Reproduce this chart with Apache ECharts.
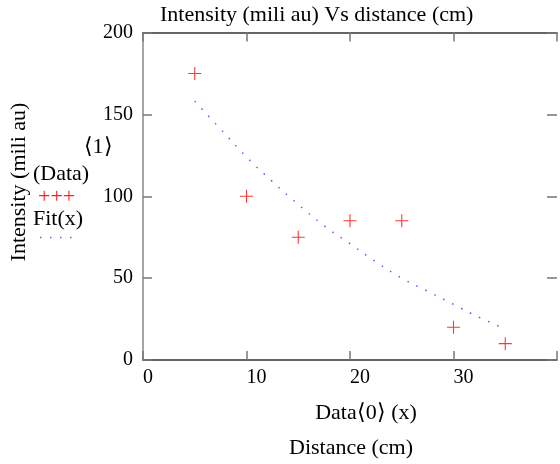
<!DOCTYPE html>
<html>
<head>
<meta charset="utf-8">
<script src="https://cdn.jsdelivr.net/npm/echarts@6/dist/echarts.min.js"></script>
<style>
html,body{margin:0;padding:0;background:#fff;}
#c{width:560px;height:464px;}
</style>
</head>
<body>
<div id="c"></div>
<script>
// Data
var dataX = [5, 10, 15, 20, 25, 30, 35];
var dataY = [175, 100, 75, 85, 85, 20, 10];
var fitX = [5, 7.5, 10, 12.5, 15, 17.5, 20, 22.5, 25, 27.5, 30, 32.5, 35];
var fitY = [158, 141, 124, 109, 95, 82, 71, 60, 50, 42, 34, 26, 19];
var xTicks = [0, 10, 20, 30, 40];
var yTicks = [0, 50, 100, 150, 200];

var titleText = 'Intensity (mili au) Vs distance (cm)';
var yName = 'Intensity (mili au)';
var xName1 = 'Data\u27E80\u27E9 (x)';
var xName2 = 'Distance (cm)';

var FONT = 'Liberation Serif';

var chart = echarts.init(document.getElementById('c'), null, {renderer: 'canvas'});

function pairs(xs, ys) { return xs.map(function (x, i) { return [x, ys[i]]; }); }

var plusPath = 'path://M0,5.5h12v1h-12z M5.5,0h1v12h-1z';

var option = {
  animation: false,
  backgroundColor: '#fff',
  grid: {left: 143, right: 0, top: 32.5, bottom: 104, containLabel: false},
  xAxis: [{
    type: 'value', min: xTicks[0], max: xTicks[xTicks.length - 1], interval: 10,
    position: 'bottom',
    axisLine: {show: true, onZero: false, lineStyle: {color: '#333', width: 1.5}},
    axisTick: {show: true, inside: true, length: 9, lineStyle: {color: '#777', width: 1.5}},
    axisLabel: {show: true, color: '#000', fontFamily: FONT, fontSize: 20, align: 'left', margin: 8,
      formatter: function (v) { return v === 40 ? '' : String(v); }},
    splitLine: {show: false}
  }, {
    type: 'value', min: xTicks[0], max: xTicks[xTicks.length - 1], interval: 10,
    position: 'top',
    axisLine: {show: true, onZero: false, lineStyle: {color: '#333', width: 1.5}},
    axisTick: {show: true, inside: true, length: 9, lineStyle: {color: '#777', width: 1.5}},
    axisLabel: {show: false},
    splitLine: {show: false}
  }],
  yAxis: [{
    type: 'value', min: yTicks[0], max: yTicks[yTicks.length - 1], interval: 50,
    position: 'left',
    axisLine: {show: true, onZero: false, lineStyle: {color: '#888', width: 1.5}},
    axisTick: {show: true, inside: true, length: 9, lineStyle: {color: '#777', width: 1.5}},
    axisLabel: {show: true, color: '#000', fontFamily: FONT, fontSize: 20, margin: 10, padding: [5, 0, 0, 0]},
    splitLine: {show: false}
  }, {
    type: 'value', min: yTicks[0], max: yTicks[yTicks.length - 1], interval: 50,
    position: 'right',
    axisLine: {show: false, onZero: false},
    axisTick: {show: true, inside: true, length: 10, lineStyle: {color: '#777', width: 1.5}},
    axisLabel: {show: false},
    splitLine: {show: false}
  }],
  series: [{
    name: 'Fit(x)', type: 'line', data: pairs(fitX, fitY), smooth: true,
    showSymbol: false, symbol: 'none',
    lineStyle: {color: '#3333ff', width: 1.5, type: [1.5, 8.5], opacity: 0.8},
    z: 2
  }, {
    name: 'Data', type: 'scatter', data: pairs(dataX, dataY),
    symbol: plusPath, symbolSize: 13,
    itemStyle: {color: '#ff2020', opacity: 0.9},
    z: 3
  }],
  graphic: [
    {type: 'text', left: 160, top: 4, style: {text: titleText, font: '22px "Liberation Serif"', fill: '#000'}},
    {type: 'text', x: 19, y: 182, rotation: Math.PI / 2,
      style: {text: yName, font: '22px "Liberation Serif"', fill: '#000', align: 'center', verticalAlign: 'middle'}},
    {type: 'text', x: 98, y: 147, style: {text: '\u27E81\u27E9', font: '22px "Liberation Serif"', fill: '#000', align: 'center', verticalAlign: 'middle'}},
    {type: 'text', x: 33, y: 174, style: {text: '(Data)', font: '22px "Liberation Serif"', fill: '#000', align: 'left', verticalAlign: 'middle'}},
    {type: 'text', x: 38, y: 197, style: {text: '+++', font: '22px "Liberation Serif"', fill: '#ff2020', align: 'left', verticalAlign: 'middle'}},
    {type: 'text', x: 33, y: 219, style: {text: 'Fit(x)', font: '22px "Liberation Serif"', fill: '#000', align: 'left', verticalAlign: 'middle'}},
    {type: 'line', shape: {x1: 40, y1: 237.5, x2: 80, y2: 237.5},
      style: {stroke: '#3333ff', lineWidth: 1.5, lineDash: [1.5, 8.5], opacity: 0.8}},
    {type: 'text', x: 366, y: 413, style: {text: xName1, font: '22px "Liberation Serif"', fill: '#000', align: 'center', verticalAlign: 'middle'}},
    {type: 'text', x: 351, y: 448, style: {text: xName2, font: '22px "Liberation Serif"', fill: '#000', align: 'center', verticalAlign: 'middle'}}
  ]
};
chart.setOption(option);
</script>
</body>
</html>
